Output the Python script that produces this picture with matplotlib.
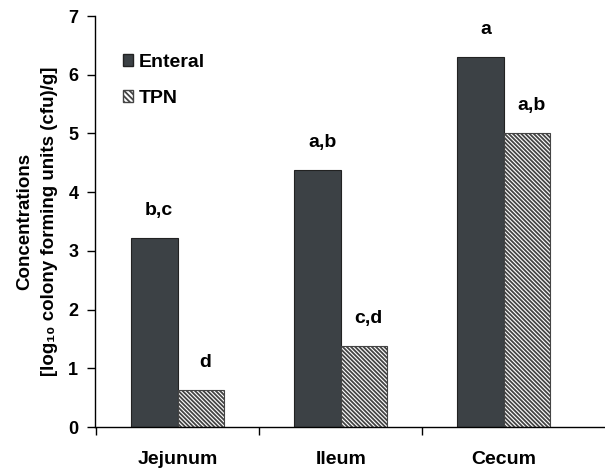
import matplotlib
matplotlib.use("Agg")
import matplotlib.pyplot as plt
from matplotlib.patches import Patch
import numpy as np

plt.rcParams['font.family'] = ['Liberation Sans', 'DejaVu Sans']
plt.rcParams['font.weight'] = 'bold'
plt.rcParams['hatch.linewidth'] = 1.3
plt.rcParams['hatch.color'] = '#3a3a3a'

categories = ["Jejunum", "Ileum", "Cecum"]
enteral = [3.22, 4.38, 6.30]
tpn = [0.63, 1.38, 5.00]
enteral_labels = ["b,c", "a,b", "a"]
tpn_labels = ["d", "c,d", "a,b"]
yticks = [0, 1, 2, 3, 4, 5, 6, 7]

dark = '#3c4145'
hatch = '\\' * 8

fig = plt.figure(figsize=(6.05, 4.71), dpi=100)
ax = fig.add_axes([0.157, 0.0934, 0.843, 0.8726])

x = np.arange(len(categories))
w = 0.285
ax.bar(x - w/2, enteral, w, color=dark, edgecolor='#222222', linewidth=0.8)
ax.bar(x + w/2, tpn, w, color='white', edgecolor='#444444', hatch=hatch, linewidth=0.8)

for xi, v, lab in zip(x, enteral, enteral_labels):
    ax.text(xi - w/2 + 0.03, v + 0.47, lab, ha='center', va='center', fontsize=14, fontweight='bold')
for xi, v, lab in zip(x, tpn, tpn_labels):
    ax.text(xi + w/2 + 0.03, v + 0.47, lab, ha='center', va='center', fontsize=14, fontweight='bold')

ax.set_xlim(-0.506, 2.62)
ax.set_ylim(0, 7)
ax.set_yticks(yticks)
ax.set_yticklabels([str(t) for t in yticks], fontsize=13, fontweight='bold')
ax.set_xticks(x)
ax.set_xticklabels(categories, fontsize=14, fontweight='bold')
ax.tick_params(axis='x', which='major', length=0, pad=17)
ax.set_xticks([-0.5, 0.5, 1.5], minor=True)
ax.tick_params(axis='x', which='minor', length=6, width=1, direction='out')
ax.tick_params(axis='y', length=6, width=1, direction='out', pad=6)

for s in ['top', 'right']:
    ax.spines[s].set_visible(False)
for s in ['left', 'bottom']:
    ax.spines[s].set_linewidth(1)

ax.set_ylabel("Concentrations\n[log\u2081\u2080 colony forming units (cfu)/g]",
              fontsize=13.5, fontweight='bold', labelpad=7, linespacing=1.65)

handles = [Patch(facecolor=dark, edgecolor='#222222', label='Enteral'),
           Patch(facecolor='white', edgecolor='#444444', hatch='\\' * 6, label='TPN')]
leg = ax.legend(handles=handles, loc='upper left', bbox_to_anchor=(0.02, 0.95), frameon=False,
                handlelength=0.55, handleheight=0.55, handletextpad=0.3, labelspacing=0.95,
                prop={'weight': 'bold', 'size': 14})

fig.savefig("out.png", dpi=100)
